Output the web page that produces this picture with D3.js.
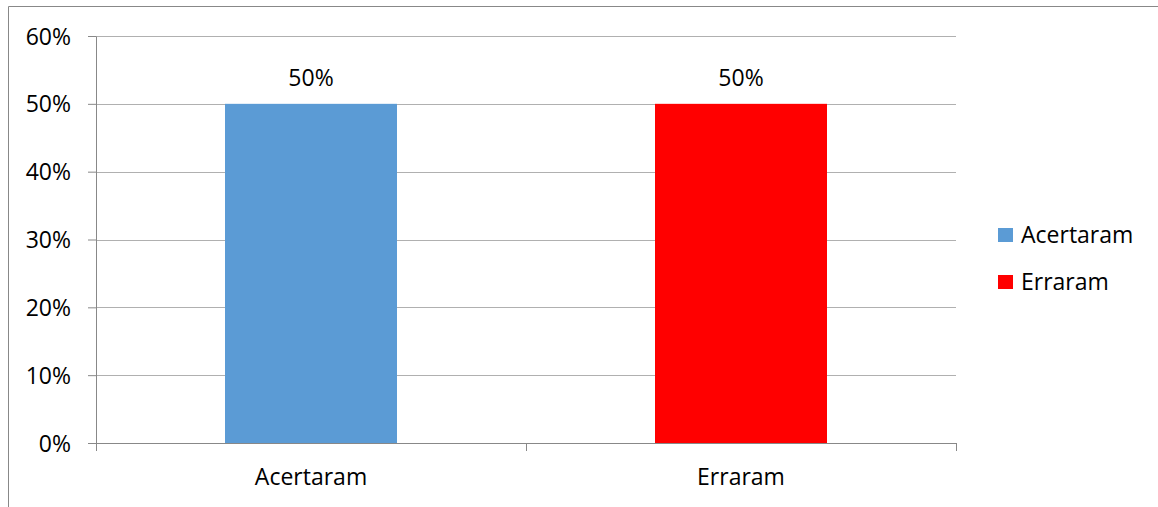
<!DOCTYPE html>
<html>
<head>
<meta charset="utf-8">
<script src="https://cdn.jsdelivr.net/npm/d3@7"></script>
<style>
  html, body { margin: 0; padding: 0; background: #fff; }
  svg text { font-family: "Open Sans", "Noto Sans", sans-serif; fill: #000; }
</style>
</head>
<body>
<svg id="chart" width="1158" height="507"></svg>
<script>
// Chart data
const categories = ["Acertaram", "Erraram"];
const values = [0.5, 0.5];
const colors = ["#5B9BD5", "#FF0000"];
const yTicks = [0, 0.1, 0.2, 0.3, 0.4, 0.5, 0.6];

const svg = d3.select("#chart");
const W = 1158, H = 507;
const margin = { left: 96, right: 202, top: 36, bottom: 64 };
const plotW = W - margin.left - margin.right;
const plotH = H - margin.top - margin.bottom;
const FS = 23;

// Outer frame (left and top edges visible)
svg.append("path")
  .attr("d", `M8.5,${H} L8.5,6.5 L${W},6.5`)
  .attr("fill", "none")
  .attr("stroke", "#888")
  .attr("stroke-width", 1);

const g = svg.append("g").attr("transform", `translate(${margin.left},${margin.top})`);

const x = d3.scaleBand().domain(categories).range([0, plotW]).paddingInner(0).paddingOuter(0);
const y = d3.scaleLinear().domain([0, 0.6]).range([plotH, 0]);
const barW = x.bandwidth() * 0.4;

// Horizontal gridlines
g.selectAll("line.grid")
  .data(yTicks.filter(t => t > 0))
  .join("line")
  .attr("class", "grid")
  .attr("x1", 0).attr("x2", plotW)
  .attr("y1", d => Math.round(y(d)) + 0.5)
  .attr("y2", d => Math.round(y(d)) + 0.5)
  .attr("stroke", "#b0b0b0")
  .attr("stroke-width", 1);

// Bars
g.selectAll("rect.bar")
  .data(categories)
  .join("rect")
  .attr("class", "bar")
  .attr("x", (d) => x(d) + (x.bandwidth() - barW) / 2)
  .attr("width", barW)
  .attr("y", (d, i) => y(values[i]))
  .attr("height", (d, i) => plotH - y(values[i]))
  .attr("fill", (d, i) => colors[i]);

// Value labels
g.selectAll("text.val")
  .data(categories)
  .join("text")
  .attr("class", "val")
  .attr("x", d => x(d) + x.bandwidth() / 2)
  .attr("y", (d, i) => y(values[i]) - 26)
  .attr("dy", "0.35em")
  .attr("text-anchor", "middle")
  .attr("font-size", FS)
  .text((d, i) => d3.format(".0%")(values[i]));

// Y axis
const yAxis = d3.axisLeft(y)
  .tickValues(yTicks)
  .tickFormat(d3.format(".0%"))
  .tickSize(8)
  .tickPadding(17);
const ya = g.append("g").call(yAxis);
ya.selectAll("path, line").attr("stroke", "#888");
ya.selectAll("text").attr("font-size", FS).attr("dy", "0.35em");
ya.select(".domain").attr("d", `M0.5,${plotH}V0.5`).attr("stroke", "#888");

// X axis
const xAxis = d3.axisBottom(x).tickSize(0).tickPadding(34);
const xa = g.append("g").attr("transform", `translate(0,${plotH})`).call(xAxis);
xa.select(".domain").attr("d", `M0,0.5H${plotW}`).attr("stroke", "#888");
xa.selectAll("text").attr("font-size", FS).attr("dy", "0.35em");
// Category boundary ticks
const bounds = [0, ...categories.map(c => x(c) + x.bandwidth())];
xa.selectAll("line.bound")
  .data(bounds)
  .join("line")
  .attr("class", "bound")
  .attr("x1", d => Math.round(d) + 0.5).attr("x2", d => Math.round(d) + 0.5)
  .attr("y1", 0).attr("y2", 8)
  .attr("stroke", "#888");

// Legend
const legend = svg.append("g").attr("transform", "translate(998,228)");
const item = legend.selectAll("g")
  .data(categories)
  .join("g")
  .attr("transform", (d, i) => `translate(0,${i * 47})`);
item.append("rect")
  .attr("width", 15).attr("height", 14)
  .attr("fill", (d, i) => colors[i]);
item.append("text")
  .attr("x", 23).attr("y", 7)
  .attr("dy", "0.35em")
  .attr("font-size", FS)
  .text(d => d);
</script>
</body>
</html>
